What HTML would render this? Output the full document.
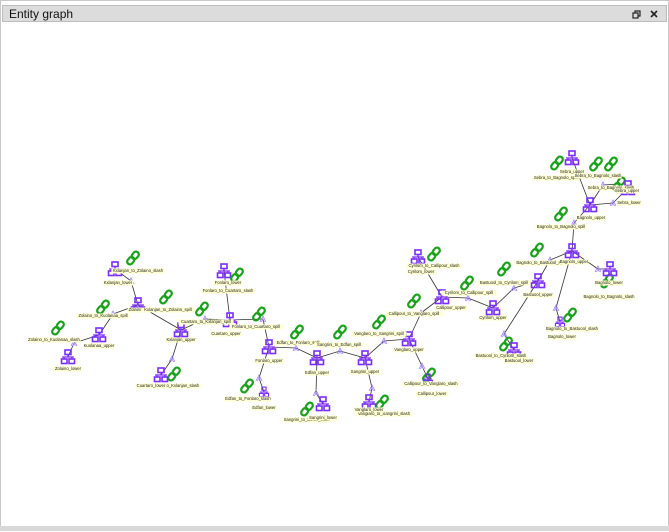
<!DOCTYPE html>
<html><head><meta charset="utf-8"><style>
body{margin:0;width:669px;height:531px;overflow:hidden;background:#fff;font-family:"Liberation Sans",sans-serif}
#frame{position:absolute;left:0;top:0;width:667px;height:529px;border:1px solid #c8c8c8;background:#fff}
#title{position:absolute;left:1px;top:4px;width:665px;height:17px;background:#dcdcdc;border:1px solid #bdbdbd;box-sizing:border-box}
#title span{position:absolute;left:6px;top:1px;font-size:12px;color:#111}
#bottom{position:absolute;left:0;top:526px;width:669px;height:5px;background:#d8d8d8}
svg text{font-family:"Liberation Sans",sans-serif;font-size:4.2px}
</style></head><body>
<div id="frame">
<div id="title"><span>Entity graph</span>
<svg style="position:absolute;left:628px;top:3px" width="30" height="11">
<g fill="none" stroke="#222" stroke-width="1.2"><rect x="2" y="4" width="5" height="5"/><path d="M4 4V2h5v5H7"/></g>
<g stroke="#222" stroke-width="1.6"><path d="M20 2l6 6M26 2l-6 6"/></g></svg></div>
<svg id="g" width="669" height="531" style="position:absolute;left:0;top:0"></svg>
</div>
<div id="bottom"></div>
<script>
// nodes: [id, x, y, type, label]  n=network, s=small network, l=link, a=arrow
const nodeIds=["zl","ku","zk1","zk1a","zk2","zk2a","kl","zu","kz1","kz1a","kzs","ku2","ck1","ck1a","ck2","ck2a","cl","fl","fcs","cu","fc1","fc1a","fu","ef1","ef1a","ef2","ef2a","el","eu","se1","se1a","se2","se2a","sl","su","vs1","vs1a","vs2","vs2a","vl","vu","cv1","cv1a","cv2","cv2a","cpl","cpu","cyl","cyc","cc1","cc1a","cyu","bc1","bc1a","bc2","bc2a","bl","bu","bb1","bb1a","bb2","bb2a","bgl","bgu","gg1","gg1a","gg2","gg2a","ggl","gu","sbu","sb1","sb2","sb3","sb1a","sb2a","sbc","sbl"];
const nodeX=[67,98,57,73,102,112,114,137,165,130,132,180,201,204,173,171,160,223,236,229,258,262,268,296,295,246,258,263,316,339,339,306,315,322,364,378,383,381,371,368,408,413,420,428,421,427,441,417,433,466,467,492,503,513,505,503,513,537,536,549,569,555,559,571,560,573,606,597,609,589,571,556,595,610,602,612,618,627,632];
const nodeY=[356,334,327,342,306,313,268,304,296,280,257,329,308,318,373,358,374,270,274,319,313,318,346,331,347,385,377,391,357,331,350,408,392,403,357,321,340,401,387,401,338,300,312,374,365,378,296,256,253,282,297,307,268,287,343,333,349,280,249,259,314,307,321,250,213,222,280,268,268,204,157,162,163,163,184,202,183,187,212];
const nodeType=["n","n","l","a","l","a","n","n","l","a","l","n","l","a","l","a","n","n","l","n","l","a","n","l","a","l","a","s","n","l","a","l","a","n","n","l","a","l","a","n","n","l","a","l","a","s","n","n","l","l","a","n","l","a","l","a","n","n","l","a","l","a","s","n","l","a","l","a","n","n","n","l","l","l","a","a","l","n","n"];
const labels=[["zl","Zolaino_lower",0,13],["ku","Kuolanaa_upper",0,12],["zk2","Zolaino_to_Kuolanaa_spill",0,10],["zk1","Zolaino_to_Kuolanaa_slash",-4,13],["kl","Kxlanjan_to_Zolaino_slash",23,3],["kl","Kxlanjan_lower",3,15],["zu","Zolaino_upper",4,6],["kz1","Kxlanjan_to_Zolaino_spill",2,14],["ku2","Kxlanjan_upper",0,11],["ck1","Cuartaro_to_Kxlanjan_spill",4,14],["ck2","Cuartaro_to_Kxlanjan_slash",-1,13],["cl","Cuartaro_lower",-10,12],["fl","Fonlaro_lower",4,13],["fl","Fonlaro_to_Cuartaro_slash",4,21],["cu","Cuartaro_upper",-4,15],["fc1","Fonlaro_to_Cuartaro_spill",-3,14],["fu","Fonlaro_upper",0,15],["ef1","Edfan_to_Fonlaro_spill",1,12],["eu","Edfan_upper",0,16],["se1","Sangrini_to_Edfan_spill",-1,14],["su","Sangrini_upper",0,15],["vs1","Vanglaro_to_Sangrini_spill",0,13],["vu","Vanglaro_upper",0,12],["cv1","Callipour_to_Vanglaro_spill",0,14],["cv2","Callipour_to_Vanglaro_slash",2,10],["cv2","Callipour_lower",3,20],["ef2","Edfan_to_Fonlaro_slash",1,14],["el","Edfan_lower",0,17],["se2","Sangrini_to_Edfan_slash",0,12],["sl","Sangrini_lower",0,15],["vs2","Vanglaro_to_Sangrini_slash",2,13],["vl","Vanglaro_lower",0,9],["cyl","Cyrilom_to_Callipour_slash",16,10],["cyl","Cyrilom_lower",3,16],["cpu","Callipour_upper",9,12],["cc1","Cyrilom_to_Callipour_spill",2,11],["cyu","Cyrilom_upper",0,11],["bc1","Bastuool_to_Cyrilom_spill",0,15],["bu","Bastuool_upper",0,15],["bb1","Bagnolo_to_Bastuool_spill",4,14],["bgu","Bagnolo_upper",2,12],["gg1","Bagnolo_to_Bagnolo_spill",0,14],["gu","Bagnolo_upper",1,14],["bc2","Bastuool_to_Cyrilom_slash",-5,13],["bl","Bastuool_lower",5,12],["bb2","Bagnolo_to_Bastuool_slash",2,15],["bgl","Bagnolo_lower",2,16],["ggl","Bagnolo_lower",-1,15],["gg2","Bagnolo_to_Bagnolo_slash",2,17],["sbu","Sebra_upper",0,15],["sb1","Sebra_to_Bagnolo_spill",-1,16],["sb2","Sebra_to_Bagnolo_slash",2,13],["sb3","Sebra_to_Bagnolo_slash",0,25],["sbc","Sebra_upper",8,8],["sbl","Sebra_lower",1,16]];
const edges=[["zl","zk1a"],["zk1a","ku"],["ku","zk2a"],["zk2a","zu"],["zu","kz1a"],["kz1a","kl"],["zu","ku2"],["ku2","ck1a"],["ck1a","cu"],["ku2","ck2a"],["ck2a","cl"],["cu","fl"],["cu","fc1a"],["fc1a","fu"],["fu","ef1a"],["ef1a","eu"],["fu","ef2a"],["ef2a","el"],["eu","se1a"],["se1a","su"],["eu","se2a"],["se2a","sl"],["su","vs1a"],["vs1a","vu"],["su","vs2a"],["vs2a","vl"],["vu","cv1a"],["cv1a","cpu"],["vu","cv2a"],["cv2a","cpl"],["cpu","cyl"],["cpu","cc1a"],["cc1a","cyu"],["cyu","bc1a"],["bc1a","bu"],["bu","bc2a"],["bc2a","bl"],["bu","bb1a"],["bb1a","bgu"],["bgu","bb2a"],["bb2a","bgl"],["bgu","gg2a"],["gg2a","ggl"],["bgu","gg1a"],["gg1a","gu"],["gu","sbu"],["gu","sb1a"],["sb1a","sbc"],["gu","sb2a"],["sb2a","sbl"]];
const ns="http://www.w3.org/2000/svg",svg=document.getElementById('g');
const P=id=>{const i=nodeIds.indexOf(id);return [nodeX[i],nodeY[i]];};
function mk(t,a,p){const e=document.createElementNS(ns,t);for(const k in a)e.setAttribute(k,a[k]);(p||svg).appendChild(e);return e;}
const eg=mk('g',{});


edges.forEach(([a,b])=>{const p=P(a),q=P(b);const l=mk('line',{x1:p[0],y1:p[1],x2:q[0],y2:q[1],stroke:'#333','stroke-width':0.8},eg);

});
const lg=mk('g',{});


nodeIds.forEach((id,i)=>{const x=nodeX[i],y=nodeY[i],t=nodeType[i];
 const g=mk('g',{transform:`translate(${x},${y})`});
 
 
 if(t==='n'||t==='s'){const c='#7b2cff',s=t==='s'?0.7:1;
  g.setAttribute('transform',`translate(${x},${y}) scale(${s})`);
  mk('rect',{x:-3,y:-7,width:6,height:4.5,fill:'none',stroke:c,'stroke-width':1.6},g);
  mk('path',{d:'M0 -2.5V0M-6 0H6M-4 0V2M4 0V2',stroke:c,'stroke-width':1.3,fill:'none'},g);
  mk('rect',{x:-6.5,y:2,width:5.5,height:4.5,fill:'none',stroke:c,'stroke-width':1.6},g);
  mk('rect',{x:1,y:2,width:5.5,height:4.5,fill:'none',stroke:c,'stroke-width':1.6},g);
 }else if(t==='l'){const c='#17a317';
  mk('rect',{x:-7,y:-2.8,width:8,height:5.6,rx:2.8,fill:'none',stroke:c,'stroke-width':2.2,transform:'rotate(-50) translate(-0.5,0)'},g);
  mk('rect',{x:-1,y:-2.8,width:8,height:5.6,rx:2.8,fill:'none',stroke:c,'stroke-width':2.2,transform:'rotate(-50) translate(0.5,0)'},g);
 }else{mk('path',{d:'M-3 3L0 -3L3 3M-1.5 3L0 0L1.5 3',stroke:'#9b7bff','stroke-width':0.8,fill:'none'},g);}
});
labels.forEach(([id,txt,dx,dy])=>{const p=P(id);const x=p[0]+dx,y=p[1]+dy;const w=txt.length*2.05+2;
 const g=mk('g',{},lg);
 
 
 mk('rect',{x:x-w/2,y:y-3.5,width:w,height:5,fill:'#ffffd0'},g);
 const te=mk('text',{x:x,y:y,'text-anchor':'middle',fill:'#222'},g);te.textContent=txt;});
svg.appendChild(lg);
</script>
</body></html>
